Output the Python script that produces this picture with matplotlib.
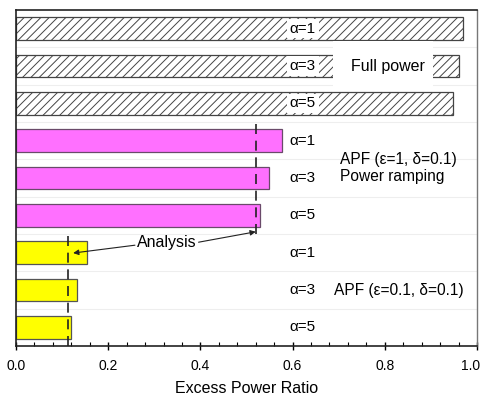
import matplotlib
matplotlib.use("Agg")
import matplotlib.pyplot as plt
import matplotlib.transforms as mtransforms
from matplotlib.patches import Rectangle
import numpy as np

plt.rcParams['font.family'] = ['Liberation Sans', 'DejaVu Sans']
plt.rcParams['hatch.color'] = '#555555'
plt.rcParams['hatch.linewidth'] = 0.7

# Data (top to bottom)
bar_labels = ['α=1', 'α=3', 'α=5', 'α=1', 'α=3', 'α=5', 'α=1', 'α=3', 'α=5']
full_power = [0.970, 0.960, 0.948]
apf_ramping = [0.577, 0.549, 0.529]
apf_small = [0.154, 0.132, 0.119]
analysis_ramping = 0.520
analysis_small = 0.113
group_labels = ['Full power', 'APF (ε=1, δ=0.1)\nPower ramping', 'APF (ε=0.1, δ=0.1)']
xticks = [0.0, 0.2, 0.4, 0.6, 0.8, 1.0]

W, H = 485, 397
fig = plt.figure(figsize=(W / 100, H / 100), dpi=100)
ax = fig.add_axes([16 / W, 1 - 346 / H, (477 - 16) / W, (346 - 10) / H])

n = len(bar_labels)
ypos = np.arange(n)[::-1]  # 8 .. 0
bh = 0.6

# faint slot separators
for yb in np.arange(0.5, n - 0.5, 1.0):
    ax.axhline(yb, color='#eeeeee', lw=0.8, zorder=0)

ax.barh(ypos[0:3], full_power, height=bh, color='white', edgecolor='#444444',
        hatch='////', linewidth=0.9, zorder=2)
ax.barh(ypos[3:6], apf_ramping, height=bh, color='#ff70ff', edgecolor='#6a4a6a',
        linewidth=0.9, zorder=2)
ax.barh(ypos[6:9], apf_small, height=bh, color='#ffff00', edgecolor='#555555',
        linewidth=0.9, zorder=2)

# analysis dashed lines
ax.plot([analysis_ramping, analysis_ramping], [2.5, 5.5], color='#222222', lw=1.2,
        ls=(0, (6, 4)), zorder=3)
ax.plot([analysis_small, analysis_small], [-0.5, 2.5], color='#222222', lw=1.2,
        ls=(0, (6, 4)), zorder=3)

# alpha labels
for i, (lab, y) in enumerate(zip(bar_labels, ypos)):
    if i < 3:
        ax.text(0.622, y, lab, ha='center', va='center', fontsize=11, zorder=4,
                bbox=dict(facecolor='white', edgecolor='none', pad=2))
    else:
        ax.text(0.622, y, lab, ha='center', va='center', fontsize=11, zorder=4)

# group labels
ax.add_patch(Rectangle((0.688, ypos[2] + bh / 2 + 0.02), 0.217,
                       (ypos[0] - ypos[2]) - bh - 0.04,
                       facecolor='white', edgecolor='none', zorder=3.5))
ax.text(0.806, ypos[1], group_labels[0], ha='center', va='center', fontsize=11.5,
        zorder=4)
ax.text(0.703, 4.27, group_labels[1], ha='left', va='center', fontsize=11.2,
        zorder=4, linespacing=1.2)
ax.text(0.69, ypos[7], group_labels[2], ha='left', va='center', fontsize=11.2,
        zorder=4)

# Analysis annotation
tx, ty = 0.328, 2.26
ax.text(tx, ty, 'Analysis', ha='center', va='center', fontsize=11.5, zorder=5)
ax.annotate('', xy=(0.124, 1.99), xytext=(tx - 0.07, ty - 0.06),
            arrowprops=dict(arrowstyle='-|>', color='#222222', lw=0.8,
                            mutation_scale=8, shrinkA=0, shrinkB=0), zorder=5)
ax.annotate('', xy=(analysis_ramping, 2.56), xytext=(tx + 0.068, ty + 0.02),
            arrowprops=dict(arrowstyle='-|>', color='#222222', lw=0.8,
                            mutation_scale=8, shrinkA=0, shrinkB=0), zorder=5)

ax.set_xlim(0, 1.0)
ax.set_ylim(-0.5, n - 0.5)
ax.set_yticks([])
ax.set_xticks(xticks)
ax.set_xticklabels([f'{t:.1f}' for t in xticks], fontsize=10)
ax.set_xticks(np.arange(0, 1.001, 0.04), minor=True)
ax.tick_params(axis='x', which='major', direction='inout', length=6, width=1, pad=6)
ax.tick_params(axis='x', which='minor', direction='in', length=3, width=0.8)
ax.set_xlabel('Excess Power Ratio', fontsize=11.5, labelpad=6)

# keep the last tick label inside the figure
last = ax.get_xticklabels()[-1]
last.set_transform(last.get_transform() +
                   mtransforms.ScaledTranslation(-6 / 100, 0, fig.dpi_scale_trans))

for s in ['left', 'bottom', 'top']:
    ax.spines[s].set_color('#222222')
    ax.spines[s].set_linewidth(1.2)
ax.spines['right'].set_color('#777777')
ax.spines['right'].set_linewidth(1.0)

fig.savefig('out.png', dpi=100)
